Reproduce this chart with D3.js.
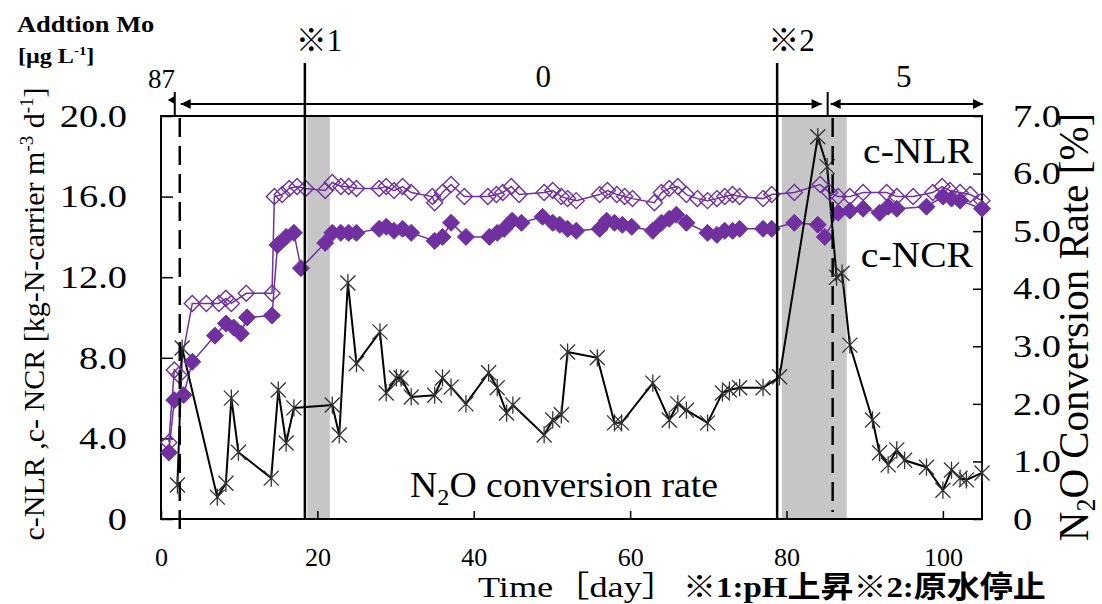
<!DOCTYPE html>
<meta charset="utf-8">
<style>
body { margin: 0; background: #fff; }
text { font-family: "Liberation Serif", "Noto Sans CJK JP", serif; fill: #000; }
.axis text { font-family: "Liberation Serif", serif; }
.axis line { stroke: #000; stroke-width: 1.5px; }
</style>
<svg width="1102" height="604"></svg>
<script src="https://d3js.org/d3.v7.min.js"></script>
<script>

// c-NLR (open diamonds)
var nlrDays = [1.0, 1.7, 2.3, 4.0, 5.8, 7.4, 8.3, 9.0, 10.9, 14.2, 14.5, 15.5, 16.4, 17.4, 18.5,
  21.0, 21.9, 23.0, 24.0, 25.0, 27.9, 28.8, 29.8, 30.9, 32.0, 34.7, 35.0, 36.0, 37.1, 38.8,
  41.8, 42.9, 43.7, 44.8, 45.8, 49.0, 50.1, 51.2, 52.0, 53.1, 56.1, 57.1, 58.3, 59.3, 60.3,
  63.1, 64.0, 65.0, 66.1, 67.2, 68.6, 69.9, 71.1, 72.1, 73.1, 74.0, 77.0, 78.1, 81.0, 84.3,
  85.5, 86.6, 88.1, 89.8, 92.8, 94.1, 96.2, 98.7, 99.9, 100.9, 102.2, 103.5, 105.0];
var nlr = [3.8, 7.4, 7.15, 10.7, 10.7, 10.7, 10.95, 10.7, 11.2, 11.2, 16.0, 16.1, 16.4, 16.5, 16.4,
  16.3, 16.7, 16.5, 16.5, 16.4, 16.4, 16.5, 16.3, 16.5, 16.2, 16.0, 15.7, 16.2, 16.6, 16.0,
  16.0, 16.1, 16.2, 16.5, 16.1, 16.2, 16.3, 16.0, 15.9, 15.8, 16.1, 16.3, 16.1, 16.0, 15.9,
  15.7, 16.2, 16.4, 16.5, 16.1, 15.9, 15.8, 15.9, 16.0, 16.1, 16.0, 15.9, 16.1, 16.2, 16.6,
  16.2, 16.0, 16.0, 16.2, 16.2, 16.0, 16.0, 16.2, 16.5, 16.3, 16.2, 16.1, 15.8];

// c-NCR (filled diamonds)
var ncrDays = [1.0, 1.7, 2.9, 4.0, 6.9, 8.3, 9.3, 10.2, 11.0, 14.2, 14.9, 16.0, 17.0, 17.9,
  21.0, 21.9, 23.0, 24.0, 25.0, 27.9, 28.8, 29.8, 30.9, 32.0, 35.0, 36.0, 37.1, 39.0,
  42.0, 43.0, 43.9, 44.9, 46.1, 48.8, 50.1, 51.0, 52.0, 53.1, 56.1, 57.0, 58.0, 59.0, 60.2,
  62.9, 64.0, 65.0, 65.9, 67.2, 69.9, 71.1, 72.1, 73.1, 74.0, 77.0, 78.1, 81.0, 84.0, 84.9,
  86.6, 88.1, 89.8, 91.9, 93.0, 94.1, 97.9, 100.0, 101.1, 102.2, 105.0];
var ncr = [3.3, 5.9, 6.15, 7.8, 9.1, 9.7, 9.5, 9.2, 10.0, 10.1, 13.6, 14.0, 14.2, 12.45,
  13.7, 14.2, 14.2, 14.2, 14.2, 14.4, 14.5, 14.3, 14.4, 14.2, 13.8, 14.0, 14.7, 14.0,
  14.0, 14.2, 14.4, 14.8, 14.7, 15.0, 14.7, 14.6, 14.4, 14.3, 14.4, 14.8, 14.7, 14.6, 14.5,
  14.3, 14.7, 14.9, 15.1, 14.7, 14.2, 14.1, 14.3, 14.3, 14.4, 14.4, 14.4, 14.7, 14.6, 14.0,
  15.2, 15.3, 15.4, 15.2, 15.5, 15.4, 15.5, 16.0, 15.9, 15.8, 15.4];

// N2O conversion rate [%] (right axis)
var n2oDays = [2.1, 2.7, 7.2, 8.3, 9.0, 9.9, 14.1, 15.0, 16.0, 17.0, 21.9, 22.8, 23.9, 25.0,
  28.0, 28.8, 30.1, 30.7, 32.0, 35.0, 36.0, 37.1, 39.0, 41.9, 43.0, 44.2, 45.0, 49.0, 50.1,
  51.2, 52.0, 55.8, 58.0, 58.9, 62.9, 65.0, 66.1, 67.2, 69.9, 71.8, 72.7, 74.0, 77.0, 79.1,
  84.0, 85.2, 86.4, 87.1, 88.1, 91.0, 91.9, 93.0, 94.1, 95.1, 97.9, 100.0, 101.1, 102.2, 103.0, 105.0];
var n2o = [0.59, 2.97, 0.38, 0.62, 2.1, 1.16, 0.71, 2.24, 1.32, 1.93, 1.98, 1.46, 4.1, 2.7,
  3.25, 2.19, 2.45, 2.45, 2.12, 2.15, 2.45, 2.29, 2.0, 2.54, 2.28, 1.84, 1.98, 1.46, 1.72,
  1.81, 2.9, 2.8, 1.67, 1.67, 2.36, 1.72, 2.0, 1.89, 1.67, 2.19, 2.24, 2.28, 2.28, 2.47,
  6.64, 6.12, 4.2, 4.27, 3.02, 1.72, 1.15, 0.94, 1.2, 1.02, 0.9, 0.5, 0.85, 0.71, 0.68, 0.8];

var xTicks = [0, 20, 40, 60, 80, 100];
var leftTicks = [0, 4, 8, 12, 16, 20];
var rightTicks = [0, 1, 2, 3, 4, 5, 6, 7];

// events (days)
var eventDays = [18.4, 78.8];          // ※1, ※2 solid lines
var eventLabels = ["※1", "※2"];
var shadeFrom = [18.7, 79.4];
var shadeTo = [21.6, 87.7];
var moChangeDays = [2.4, 85.9];         // dashed lines
var moLabels = ["87", "0", "5"];
var moLabelDays = [-1.0, 48.9, 95.0];

var svg = d3.select("svg"),
    width = +svg.attr("width"),
    height = +svg.attr("height");

svg.append("rect").attr("width", width).attr("height", height).attr("fill", "#fff");

var x = d3.scaleLinear().domain([0, 105]).range([161, 982]);
var yL = d3.scaleLinear().domain([0, 20]).range([519, 116]);
var yR = d3.scaleLinear().domain([0, 7]).range([519, 116]);

var purple = "#7030a0";

// shaded periods
svg.append("g").selectAll("rect")
  .data(shadeFrom)
  .enter().append("rect")
    .attr("x", function(d) { return x(d); })
    .attr("y", yL(20) + 1)
    .attr("width", function(d, i) { return x(shadeTo[i]) - x(d); })
    .attr("height", yL(0) - yL(20) - 1)
    .attr("fill", "#c6c6c6");

// axes
function fmt(d) { return d === 0 ? "0" : d3.format(".1f")(d); }

var gx = svg.append("g").attr("class", "axis")
    .attr("transform", "translate(0," + yL(0) + ")")
    .call(d3.axisBottom(x).tickValues(xTicks).tickSizeInner(-8).tickSizeOuter(0).tickPadding(29));
gx.selectAll("text").style("font-size", "26px");

var gl = svg.append("g").attr("class", "axis")
    .attr("transform", "translate(" + x(0) + ",0)")
    .call(d3.axisLeft(yL).tickValues(leftTicks).tickFormat(fmt).tickSizeInner(-12).tickSizeOuter(0).tickPadding(34));
gl.selectAll("text").style("font-size", "32px")
    .attr("x", -34 / 1.2).attr("transform", "scale(1.2,1)");

var gr = svg.append("g").attr("class", "axis")
    .attr("transform", "translate(" + x(105) + ",0)")
    .call(d3.axisRight(yR).tickValues(rightTicks).tickFormat(fmt).tickSizeInner(-9).tickSizeOuter(0).tickPadding(31));
gr.selectAll("text").style("font-size", "32px")
    .attr("x", 31 / 1.2).attr("transform", "scale(1.2,1)");

svg.selectAll(".axis .domain").remove();

svg.append("rect")
    .attr("x", x(0)).attr("y", yL(20))
    .attr("width", x(105) - x(0)).attr("height", yL(0) - yL(20))
    .attr("fill", "none").attr("stroke", "#000").attr("stroke-width", 2);

// series lines
var lineL = function(days) {
  return d3.line().x(function(d, i) { return x(days[i]); }).y(function(d) { return yL(d); });
};
var lineR = d3.line().x(function(d, i) { return x(n2oDays[i]); }).y(function(d) { return yR(d); });

function diamond(r) { return "M0," + (-r) + "L" + r + ",0L0," + r + "L" + (-r) + ",0Z"; }
function star(r) {
  return "M" + (-r) + "," + (-r) + "L" + r + "," + r + "M" + (-r) + "," + r + "L" + r + "," + (-r) +
         "M0," + (-r * 1.15) + "L0," + (r * 1.15);
}

svg.append("path").datum(nlr).attr("d", lineL(nlrDays))
    .attr("fill", "none").attr("stroke", purple).attr("stroke-width", 1.5);
svg.append("path").datum(ncr).attr("d", lineL(ncrDays))
    .attr("fill", "none").attr("stroke", purple).attr("stroke-width", 1.5);
svg.append("path").datum(n2o).attr("d", lineR)
    .attr("fill", "none").attr("stroke", "#000").attr("stroke-width", 2);

svg.append("g").selectAll("path")
  .data(nlr)
  .enter().append("path")
    .attr("d", diamond(8))
    .attr("transform", function(d, i) { return "translate(" + x(nlrDays[i]) + "," + yL(d) + ")"; })
    .attr("fill", "none").attr("stroke", purple).attr("stroke-width", 1.4);

svg.append("g").selectAll("path")
  .data(ncr)
  .enter().append("path")
    .attr("d", diamond(8.5))
    .attr("transform", function(d, i) { return "translate(" + x(ncrDays[i]) + "," + yL(d) + ")"; })
    .attr("fill", purple).attr("stroke", purple).attr("stroke-width", 1);

svg.append("g").selectAll("path")
  .data(n2o)
  .enter().append("path")
    .attr("d", star(7.5))
    .attr("transform", function(d, i) { return "translate(" + x(n2oDays[i]) + "," + yR(d) + ")"; })
    .attr("fill", "none").attr("stroke", "#333").attr("stroke-width", 1.3);

// event lines ※1 ※2
svg.append("g").selectAll("line")
  .data(eventDays)
  .enter().append("line")
    .attr("x1", function(d) { return x(d); }).attr("x2", function(d) { return x(d); })
    .attr("y1", 63).attr("y2", yL(0))
    .attr("stroke", "#000").attr("stroke-width", 2.5);

svg.append("g").selectAll("text")
  .data(eventLabels)
  .enter().append("text")
    .attr("x", function(d, i) { return x(eventDays[i]) - 9; })
    .attr("y", 51)
    .style("font-size", "31px")
    .text(function(d) { return d; });

// Mo change dashed lines
svg.append("g").selectAll("line")
  .data(moChangeDays)
  .enter().append("line")
    .attr("x1", function(d) { return x(d); }).attr("x2", function(d) { return x(d); })
    .attr("y1", yL(20) + 2).attr("y2", function(d, i) { return i === 0 ? 531 : 512; })
    .attr("stroke", "#000").attr("stroke-width", 2.5)
    .attr("stroke-dasharray", "19,9");

// stubs above the plot
svg.append("g").selectAll("line")
  .data(moChangeDays)
  .enter().append("line")
    .attr("x1", function(d) { return x(d) - 5; }).attr("x2", function(d) { return x(d) - 5; })
    .attr("y1", 92).attr("y2", yL(20))
    .attr("stroke", "#000").attr("stroke-width", 2);

// Mo arrows
var defs = svg.append("defs");
defs.append("marker").attr("id", "ah").attr("viewBox", "0 0 10 10")
    .attr("refX", 10).attr("refY", 5).attr("markerWidth", 12).attr("markerHeight", 10)
    .attr("markerUnits", "userSpaceOnUse").attr("orient", "auto-start-reverse")
  .append("path").attr("d", "M0,0L10,5L0,10Z").attr("fill", "#000");

var arrowFrom = [x(moChangeDays[0]) + 1, x(moChangeDays[1]) - 2];
var arrowTo = [x(moChangeDays[1]) - 11, x(105) + 1];
svg.append("g").selectAll("line")
  .data(arrowFrom)
  .enter().append("line")
    .attr("x1", function(d) { return d; }).attr("x2", function(d, i) { return arrowTo[i]; })
    .attr("y1", 104).attr("y2", 104)
    .attr("stroke", "#000").attr("stroke-width", 2)
    .attr("marker-start", "url(#ah)").attr("marker-end", "url(#ah)");

// tiny arrow marking the initial 87
svg.append("path")
    .attr("d", "M" + (x(moChangeDays[0]) - 12) + ",100L" + (x(moChangeDays[0]) - 5) + ",96L" + (x(moChangeDays[0]) - 5) + ",104Z")
    .attr("fill", "#000");

svg.append("g").selectAll("text")
  .data(moLabels)
  .enter().append("text")
    .attr("x", function(d, i) { return i === 0 ? 148 : x(moLabelDays[i]); })
    .attr("y", function(d, i) { return i === 0 ? 88 : 87; })
    .attr("text-anchor", function(d, i) { return i === 0 ? "start" : "middle"; })
    .style("font-size", function(d, i) { return i === 0 ? "27px" : "31px"; })
    .text(function(d) { return d; });

// heading at top-left
svg.append("text").attr("transform", "translate(17,32) scale(1.15,1)")
    .style("font-size", "23px").style("font-weight", "bold").text("Addtion Mo");
var mu = svg.append("text").attr("transform", "translate(18,63) scale(1.15,1)")
    .style("font-size", "21px").style("font-weight", "bold");
mu.append("tspan").text("[μg L");
mu.append("tspan").attr("dy", -8).style("font-size", "13px").text("-1");
mu.append("tspan").attr("dy", 8).text("]");

// series labels
svg.append("text").attr("transform", "translate(973,163) scale(1.1,1)")
    .attr("text-anchor", "end").style("font-size", "36px").text("c-NLR");
svg.append("text").attr("transform", "translate(973,267) scale(1.1,1)")
    .attr("text-anchor", "end").style("font-size", "36px").text("c-NCR");

var n2oLab = svg.append("text").attr("transform", "translate(410,497) scale(1.05,1)")
    .style("font-size", "36px");
n2oLab.append("tspan").text("N");
n2oLab.append("tspan").attr("dy", 8).style("font-size", "23px").text("2");
n2oLab.append("tspan").attr("dy", -8).text("O conversion rate");

// axis titles
var yLab = svg.append("text").attr("transform", "translate(44,314) rotate(-90)")
    .attr("text-anchor", "middle").style("font-size", "30px");
yLab.append("tspan").text("c-NLR ,c- NCR [kg-N-carrier m");
yLab.append("tspan").attr("dy", -11).style("font-size", "19px").text("-3");
yLab.append("tspan").attr("dy", 11).text(" d");
yLab.append("tspan").attr("dy", -11).style("font-size", "19px").text("-1");
yLab.append("tspan").attr("dy", 11).text("]");

var yrLab = svg.append("text").attr("transform", "translate(1088,327) scale(1.05,1) rotate(-90)")
    .attr("text-anchor", "middle").style("font-size", "41px");
yrLab.append("tspan").text("N");
yrLab.append("tspan").attr("dy", 7).style("font-size", "26px").text("2");
yrLab.append("tspan").attr("dy", -7).text("O Conversion Rate [%]");

svg.append("text").attr("transform", "translate(478,597) scale(1.25,1)")
    .style("font-size", "29px").text("Time［day］");
svg.append("text").attr("transform", "translate(683,597) scale(1.1,1)")
    .style("font-size", "30px").style("font-weight", "bold").text("※1:pH上昇※2:原水停止");

</script>
